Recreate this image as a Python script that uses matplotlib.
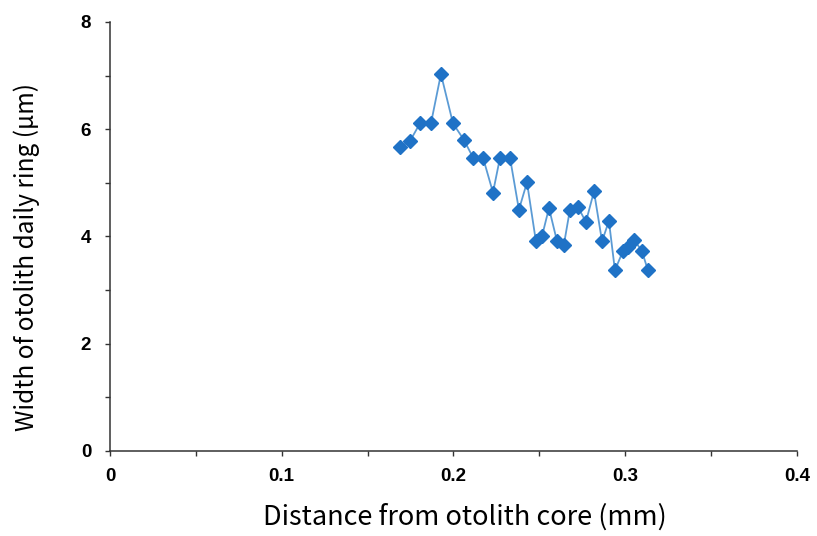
import matplotlib.pyplot as plt
from matplotlib.ticker import MultipleLocator

# otolith ring widths vs distance from core
distance = [0.1689, 0.1747, 0.1805, 0.1869, 0.1927, 0.1997, 0.2061, 0.2114,
            0.2172, 0.2230, 0.2271, 0.2329, 0.2381, 0.2428, 0.2480, 0.2515,
            0.2556, 0.2603, 0.2643, 0.2678, 0.2725, 0.2771, 0.2818, 0.2865,
            0.2905, 0.2940, 0.2987, 0.3016, 0.3051, 0.3097, 0.3132]
width = [5.67, 5.78, 6.11, 6.11, 7.03, 6.11, 5.80, 5.47,
         5.47, 4.82, 5.47, 5.47, 4.50, 5.01, 3.91, 4.00,
         4.53, 3.91, 3.85, 4.50, 4.55, 4.27, 4.84, 3.91,
         4.29, 3.37, 3.73, 3.81, 3.94, 3.73, 3.37]

fig = plt.figure(figsize=(8.17, 5.36), dpi=100)
ax = fig.add_axes([0.1346, 0.1586, 0.8409, 0.8004])

ax.plot(distance, width, color="#5b9bd5", lw=1.3, zorder=2)
ax.plot(distance, width, ls="none", marker="D", ms=7,
        color="#1f72c6", mec="#1f72c6", zorder=3)

ax.set_xlim(0, 0.4)
ax.set_ylim(0, 8)
ax.set_xticks([0, 0.1, 0.2, 0.3, 0.4])
ax.set_xticklabels(["0", "0.1", "0.2", "0.3", "0.4"])
ax.xaxis.set_minor_locator(MultipleLocator(0.05))
ax.yaxis.set_major_locator(MultipleLocator(2))
ax.yaxis.set_minor_locator(MultipleLocator(1))

for s in ["top", "right"]:
    ax.spines[s].set_visible(False)
for s in ["left", "bottom"]:
    ax.spines[s].set_linewidth(1.1)
    ax.spines[s].set_color("#333333")

ax.tick_params(which="both", direction="out", length=3.5, width=1, color="#333333")
ax.tick_params(axis="x", labelsize=13.5, pad=9)
ax.tick_params(axis="y", labelsize=13.5, pad=10)
for lbl in ax.get_xticklabels() + ax.get_yticklabels():
    lbl.set_fontweight("bold")
    lbl.set_family("Liberation Sans")

ax.set_xlabel("Distance from otolith core (mm)", fontsize=19.5,
              family=["Noto Sans CJK JP", "DejaVu Sans"], labelpad=13)
ax.set_ylabel("Width of otolith daily ring (μm)", fontsize=17.5,
              family=["Noto Sans CJK JP", "DejaVu Sans"], labelpad=29)
# labels sit a little off the axis centres
ax.xaxis.label.set_x(0.517)
ax.yaxis.label.set_y(0.452)

fig.savefig("out.png", dpi=100)
